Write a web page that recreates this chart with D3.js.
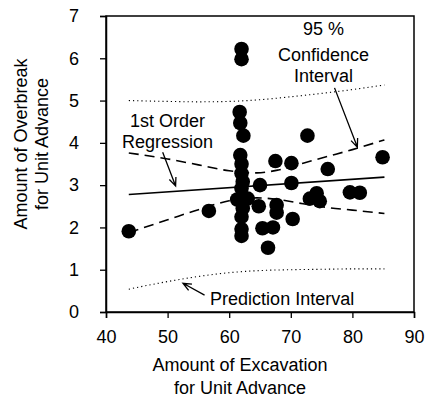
<!DOCTYPE html>
<html><head><meta charset="utf-8">
<script src="https://cdn.jsdelivr.net/npm/d3@7"></script>
<style>body{margin:0;background:#fff}text{font-family:"Liberation Sans",Arial,sans-serif;fill:#000}</style>
</head><body><svg id="c" width="428" height="413"></svg>
<script>
// ---- data ----
const xTicks = [40, 50, 60, 70, 80, 90];
const yTicks = [0, 1, 2, 3, 4, 5, 6, 7];
const excavation = [43.7,56.7,62.0,62.0,61.7,61.8,62.3,61.8,62.0,62.0,62.2,62.0,61.3,63.0,62.2,62.0,62.0,62.0,65.0,67.5,70.1,72.7,76.0,70.1,84.9,74.2,73.1,74.7,79.6,81.2,64.8,67.7,67.7,70.3,65.4,67.1,66.3];
const overbreak  = [1.91,2.39,6.22,5.98,4.73,4.47,4.17,3.71,3.50,3.28,3.08,2.92,2.66,2.68,2.45,2.25,1.96,1.80,3.00,3.57,3.52,4.17,3.38,3.05,3.66,2.81,2.68,2.62,2.83,2.82,2.50,2.53,2.35,2.20,1.98,2.00,1.52];
const regX = [43.7, 85.2];
const regY = [2.78, 3.19];
const bandX = [43.7, 50, 55, 60, 64.5, 68, 72, 76, 80, 85.2];
const confUpper = [3.76, 3.62, 3.48, 3.34, 3.29, 3.36, 3.52, 3.68, 3.84, 4.07];
const confLower = [1.88, 2.18, 2.42, 2.63, 2.70, 2.66, 2.56, 2.47, 2.41, 2.33];
const predX = [43.7, 50, 55, 60, 65, 70, 75, 80, 85.2];
const predUpper = [5.00, 4.98, 4.97, 4.98, 5.02, 5.09, 5.17, 5.26, 5.37];
const predLower = [0.54, 0.72, 0.84, 0.93, 0.98, 1.00, 1.01, 1.02, 1.02];
const xTitle = ["Amount of Excavation", "for Unit Advance"];
const yTitle = ["Amount of Overbreak", "for Unit Advance"];

// ---- layout ----
const svg = d3.select("#c");
const L = 106, R = 414, T = 16, B = 312;
const x = d3.scaleLinear().domain([40, 90]).range([L, R]);
const y = d3.scaleLinear().domain([0, 7]).range([B, T]);

// frame
svg.append("rect").attr("x", L).attr("y", T).attr("width", R - L).attr("height", B - T)
  .attr("fill", "none").attr("stroke", "#000").attr("stroke-width", 1.5);

const xa = svg.append("g").attr("transform", `translate(0,${B})`)
  .call(d3.axisBottom(x).tickValues(xTicks).tickSize(6).tickPadding(12).tickFormat(d3.format("d")));
const ya = svg.append("g").attr("transform", `translate(${L},0)`)
  .call(d3.axisLeft(y).tickValues(yTicks).tickSize(6).tickPadding(21).tickFormat(d3.format("d")));
[xa, ya].forEach(g => {
  g.select(".domain").attr("stroke-width", 1.5);
  g.selectAll(".tick line").attr("stroke-width", 1.3);
  g.selectAll("text").attr("font-size", 18).attr("font-family", "Liberation Sans, Arial, sans-serif");
});

const line = (xs, ys, curve) => d3.line().x((d, i) => x(xs[i])).y(d => y(d)).curve(curve)(ys);

// prediction interval (dotted)
[predUpper, predLower].forEach(arr => svg.append("path")
  .attr("d", line(predX, arr, d3.curveMonotoneX)).attr("fill", "none")
  .attr("stroke", "#000").attr("stroke-width", 1.1).attr("stroke-dasharray", "1.2,3"));
// confidence (dashed)
[confUpper, confLower].forEach(arr => svg.append("path")
  .attr("d", line(bandX, arr, d3.curveMonotoneX)).attr("fill", "none")
  .attr("stroke", "#000").attr("stroke-width", 1.6).attr("stroke-dasharray", "10,6"));
// regression
svg.append("path").attr("d", line(regX, regY, d3.curveLinear)).attr("fill", "none")
  .attr("stroke", "#000").attr("stroke-width", 1.6);

// points
svg.append("g").selectAll("circle").data(excavation).join("circle")
  .attr("cx", d => x(d)).attr("cy", (d, i) => y(overbreak[i])).attr("r", 7.3).attr("fill", "#000");

// annotations
const notes = [
  {lines: ["95 %", "Confidence", "Interval"], x: 75.3, y: 6.55, anchor: "middle", dy: [0, 26, 47]},
  {lines: ["1st Order", "Regression"], x: 50.0, y: 4.37, anchor: "middle", dy: [0, 21]},
  {lines: ["Prediction Interval"], x: 56.9, y: 0.17, anchor: "start", dy: [0]}
];
notes.forEach(n => {
  n.lines.forEach((t, i) => svg.append("text").attr("x", x(n.x)).attr("y", y(n.y) + n.dy[i])
    .attr("text-anchor", n.anchor).attr("font-size", 18).text(t));
});
const arrows = [
  {x1: 77.1, y1: 5.30, x2: 80.8, y2: 3.90},
  {x1: 49.2, y1: 3.78, x2: 51.3, y2: 2.98},
  {x1: 56.0, y1: 0.40, x2: 52.5, y2: 0.68}
];
arrows.forEach(a => {
  const X1 = x(a.x1), Y1 = y(a.y1), X2 = x(a.x2), Y2 = y(a.y2);
  const ang = Math.atan2(Y2 - Y1, X2 - X1), h = 9, s = 0.4;
  svg.append("path").attr("d",
    `M${X1},${Y1}L${X2},${Y2}M${X2 - h * Math.cos(ang - s)},${Y2 - h * Math.sin(ang - s)}L${X2},${Y2}L${X2 - h * Math.cos(ang + s)},${Y2 - h * Math.sin(ang + s)}`)
    .attr("fill", "none").attr("stroke", "#000").attr("stroke-width", 1.3);
});

// axis titles
xTitle.forEach((t, i) => svg.append("text").attr("x", 240).attr("y", 371 + i * 23)
  .attr("text-anchor", "middle").attr("font-size", 18).text(t));
yTitle.forEach((t, i) => svg.append("text").attr("transform", `translate(${27 + i * 21},144) rotate(-90)`)
  .attr("text-anchor", "middle").attr("font-size", 18).text(t));
</script></body></html>
